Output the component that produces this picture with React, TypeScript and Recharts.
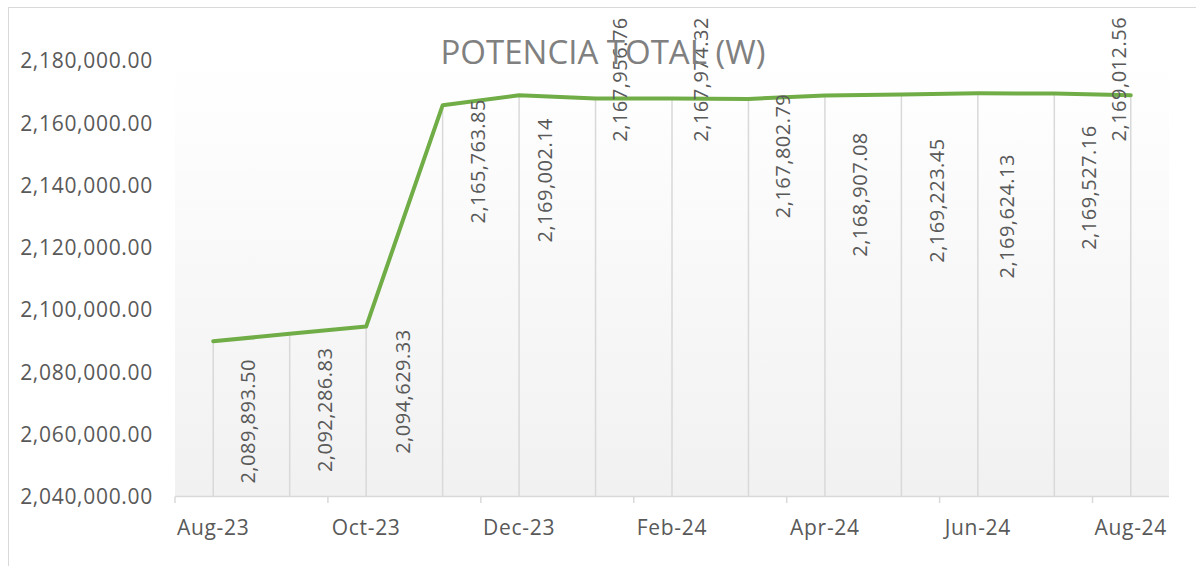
import React from 'react';
import { LineChart, Line, XAxis, YAxis, CartesianGrid, ReferenceLine } from 'recharts';

// ---- data ----
const months = ['Aug-23', 'Sep-23', 'Oct-23', 'Nov-23', 'Dec-23', 'Jan-24', 'Feb-24', 'Mar-24', 'Apr-24', 'May-24', 'Jun-24', 'Jul-24', 'Aug-24'];
const potenciaTotal = [2089893.5, 2092286.83, 2094629.33, 2165763.85, 2169002.14, 2167956.76, 2167974.32, 2167802.79, 2168907.08, 2169223.45, 2169624.13, 2169527.16, 2169012.56];
const labeledMonthIdx = [0, 2, 4, 6, 8, 10, 12];
const yTicks = [2040000, 2060000, 2080000, 2100000, 2120000, 2140000, 2160000, 2180000];
const yDomain = [2040000, 2180000];
const title = 'POTENCIA TOTAL (W)';

// ---- styles (label offsets relative to each point, in px) ----
const labelShift = [
  { dx: 35, dy: 80 }, { dx: 35.5, dy: 76 }, { dx: 37, dy: 65 }, { dx: 35.5, dy: 56 },
  { dx: 26, dy: 85 }, { dx: 24, dy: -19 }, { dx: 29, dy: -19 }, { dx: 34.5, dy: 57 },
  { dx: 35, dy: 99 }, { dx: 35, dy: 106 }, { dx: 29, dy: 123 }, { dx: 34.5, dy: 94 },
  { dx: -12, dy: -16 },
];

const FONT = "'Open Sans', sans-serif";
const TEXT = '#595959';
const GRID = '#d9d9d9';
const GREEN = '#70ad47';

const data = months.map((m, i) => ({ idx: i, month: m, value: potenciaTotal[i] }));
// x ticks: month labels at labeled indices, tick marks at slot boundaries
const xTicks: number[] = [];
labeledMonthIdx.forEach((i) => {
  if (i - 0.5 < months.length - 1) xTicks.push(i - 0.5);
  xTicks.push(i);
});

const fmt = (v: number) => v.toLocaleString('en-US', { minimumFractionDigits: 2, maximumFractionDigits: 2 });

const XTick = (props: any) => {
  const { x, y, payload } = props;
  const v = payload.value as number;
  if (Number.isInteger(v)) {
    return (
      <text x={x} y={y + 38.5} textAnchor="middle" fill={TEXT} fontSize={21} fontFamily={FONT} letterSpacing={0.7}>
        {months[v]}
      </text>
    );
  }
  return <line x1={x} x2={x} y1={y} y2={y + 6.5} stroke={GRID} strokeWidth={1.5} />;
};

const renderLabel = (props: any) => {
  const { x, y, index, value } = props;
  const s = labelShift[index] || { dx: 35, dy: 60 };
  const cx = x + s.dx;
  const cy = y + s.dy;
  return (
    <text
      key={`lbl-${index}`}
      x={cx}
      y={cy}
      transform={`rotate(-90 ${cx} ${cy})`}
      textAnchor="middle"
      dy="0.36em"
      fill={TEXT}
      fontSize={20}
      fontFamily={FONT}
      letterSpacing={0.5}
    >
      {fmt(value)}
    </text>
  );
};

export default function App() {
  return (
    <div style={{ position: 'fixed', left: 0, top: 0, width: 1196, height: 566, overflow: 'hidden', background: '#fff' }}>
      <div
        style={{
          position: 'absolute', left: 8, top: 7, width: 1200, height: 600,
          borderTop: `1px solid ${GRID}`, borderLeft: `1px solid ${GRID}`,
        }}
      />
      <svg width={0} height={0} style={{ position: 'absolute' }}>
        <defs>
          <linearGradient id="plotBg" x1="0" y1="0" x2="0" y2="1">
            <stop offset="0%" stopColor="#ffffff" />
            <stop offset="100%" stopColor="#f1f1f1" />
          </linearGradient>
        </defs>
      </svg>
      <div style={{ position: 'absolute', left: 0, top: 0 }}>
        <LineChart width={1196} height={566} data={data} margin={{ top: 61, right: 27, bottom: 0, left: 0 }}>
          <CartesianGrid horizontal={false} vertical={false} fill="url(#plotBg)" stroke="none" />
          <XAxis
            dataKey="idx"
            type="number"
            domain={[-0.5, months.length - 0.5]}
            ticks={xTicks}
            interval={0}
            height={69.5}
            axisLine={{ stroke: GRID, strokeWidth: 1.5 }}
            tickLine={false}
            tickSize={0}
            tickMargin={0}
            tick={<XTick />}
          />
          <YAxis
            type="number"
            domain={yDomain}
            ticks={yTicks}
            interval={0}
            width={175}
            axisLine={false}
            tickLine={false}
            tickSize={0}
            tickMargin={22}
            tickFormatter={fmt}
            tick={{ fill: TEXT, fontSize: 21, fontFamily: FONT, letterSpacing: 0.7 }}
          />
          {data.map((d) => (
            <ReferenceLine
              key={`drop-${d.idx}`}
              segment={[{ x: d.idx, y: d.value }, { x: d.idx, y: yDomain[0] }]}
              stroke={GRID}
              strokeWidth={1.5}
            />
          ))}
          <Line
            type="linear"
            dataKey="value"
            stroke={GREEN}
            strokeWidth={4}
            strokeLinecap="round"
            strokeLinejoin="round"
            dot={false}
            activeDot={false}
            isAnimationActive={false}
            label={renderLabel}
          />
        </LineChart>
      </div>
      <svg width={1196} height={80} style={{ position: 'absolute', left: 0, top: 0, pointerEvents: 'none' }}>
        <text x={603} y={64} textAnchor="middle" fill="#808080" fontSize={33} fontFamily={FONT}>
          {title}
        </text>
      </svg>
    </div>
  );
}
